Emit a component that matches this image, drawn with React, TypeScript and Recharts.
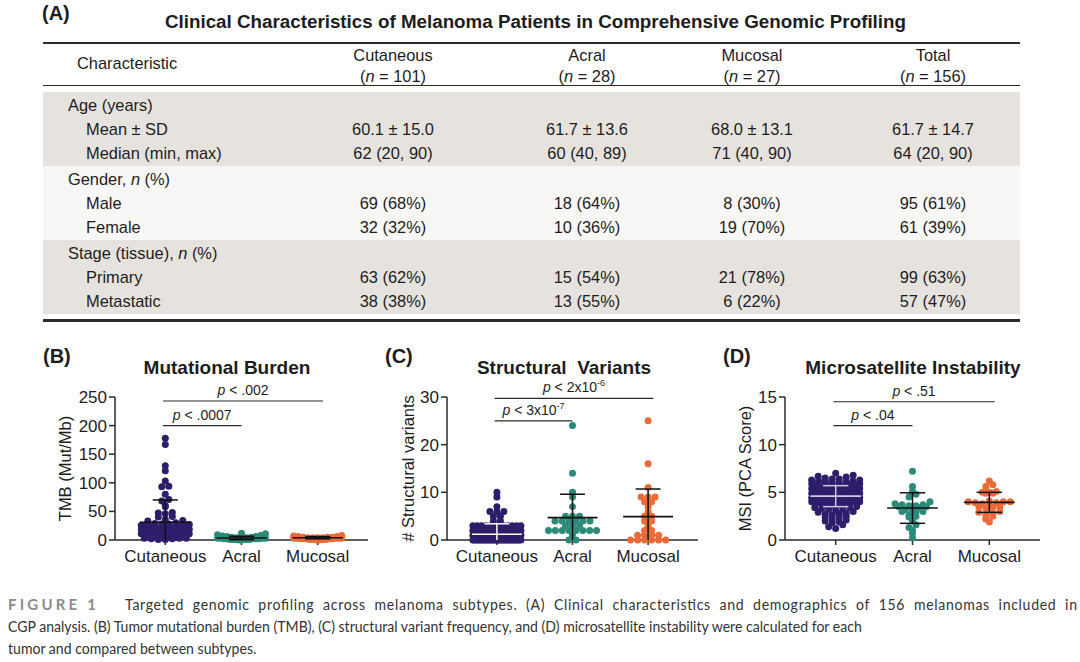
import React from 'react';
import { ScatterChart, Scatter, XAxis, YAxis, ReferenceLine } from 'recharts';

const FONT = '"Liberation Sans", Arial, Helvetica, sans-serif';
const INK = '#1d1d1d';
const AXIS = '#2a2a2a';

// ---------- (A) table ----------
const tableTitle = 'Clinical Characteristics of Melanoma Patients in Comprehensive Genomic Profiling';
const tableGroups = ['Cutaneous', 'Acral', 'Mucosal', 'Total'];
const tableGroupN = [101, 28, 27, 156];
const ageMeanSd = ['60.1 ± 15.0', '61.7 ± 13.6', '68.0 ± 13.1', '61.7 ± 14.7'];
const ageMedian = ['62 (20, 90)', '60 (40, 89)', '71 (40, 90)', '64 (20, 90)'];
const genderMale = ['69 (68%)', '18 (64%)', '8 (30%)', '95 (61%)'];
const genderFemale = ['32 (32%)', '10 (36%)', '19 (70%)', '61 (39%)'];
const stagePrimary = ['63 (62%)', '15 (54%)', '21 (78%)', '99 (63%)'];
const stageMetastatic = ['38 (38%)', '13 (55%)', '6 (22%)', '57 (47%)'];

const tableSections = [
  { name: 'Age (years)', nPct: false, shade: '#e6e2dd', rows: [['Mean ± SD', ageMeanSd], ['Median (min, max)', ageMedian]] },
  { name: 'Gender', nPct: true, shade: '#f8f7f5', rows: [['Male', genderMale], ['Female', genderFemale]] },
  { name: 'Stage (tissue)', nPct: true, shade: '#e6e2dd', rows: [['Primary', stagePrimary], ['Metastatic', stageMetastatic]] },
] as { name: string; nPct: boolean; shade: string; rows: [string, string[]][] }[];

// ---------- dot plots ----------
const subtypes = ['Cutaneous', 'Acral', 'Mucosal'];
const subtypeColors = ['#2d1d6b', '#2b8a78', '#ea6a38'];

// (B) tumor mutational burden, Mut/Mb
const tmbCutaneous = [
  178, 167, 130, 121, 103, 94, 93, 80, 71, 68, 60, 58, 48, 47, 46, 41, 40, 36, 34, 33,
  30, 29, 28, 28, 27, 26, 25, 25, 24, 24, 23, 22, 22, 21, 21, 20, 20, 19, 19, 18,
  18, 17, 17, 16, 16, 16, 15, 15, 15, 14, 14, 14, 13, 13, 13, 12, 12, 12, 12, 11,
  11, 11, 11, 10, 10, 10, 10, 9, 9, 9, 9, 8, 8, 8, 8, 8, 7, 7, 7, 7,
  7, 6, 6, 6, 6, 6, 5, 5, 5, 5, 4, 4, 4, 4, 3, 3, 3, 2, 2, 1, 1,
];
const tmbAcral = [12, 11, 9, 8, 7, 6, 6, 5, 5, 4, 4, 4, 3, 3, 3, 3, 2, 2, 2, 2, 2, 1, 1, 1, 1, 0.5, 0.5, 0];
const tmbMucosal = [8, 7, 6, 6, 5, 5, 5, 4, 4, 4, 4, 3, 3, 3, 3, 3, 2, 2, 2, 2, 2, 1, 1, 1, 1, 0, 0];
const tmbMean = [31, 3.5, 4];
const tmbSd = [39, 3, 2];

// (C) structural variants, count
const svCutaneous = [
  10, 9, 7, 6, 6, 6, 5, 5, 4, 4,
  3, 3, 3, 3, 3, 3, 3, 3, 3, 3, 3, 3,
  2, 2, 2, 2, 2, 2, 2, 2, 2, 2, 2, 2, 2, 2, 2, 2, 2, 2,
  1, 1, 1, 1, 1, 1, 1, 1, 1, 1, 1, 1, 1, 1, 1, 1, 1, 1, 1, 1, 1, 1, 1, 1, 1, 1, 1, 1, 1, 1,
  0, 0, 0, 0, 0, 0, 0, 0, 0, 0, 0, 0, 0, 0, 0, 0, 0, 0, 0, 0, 0, 0, 0, 0, 0, 0, 0, 0, 0, 0, 0,
];
const svAcral = [24, 14, 10, 9, 7, 5, 5, 5, 4, 4, 4, 4, 4, 4, 3, 3, 3, 2, 2, 2, 2, 2, 2, 2, 2, 1, 0, 0];
const svMucosal = [25, 16, 11, 9, 9, 9, 8, 8, 7, 6, 5, 5, 4, 4, 3, 2, 2, 1, 1, 1, 1, 0, 0, 0, 0, 0, 0];
const svMean = [1.2, 4.7, 4.9];
const svSd = [2.2, 4.9, 5.8];

// (D) microsatellite instability, PCA score
const msiCutaneous = [
  7.0, 6.8, 6.7, 6.6, 6.5, 6.4, 6.4, 6.3, 6.3, 6.2,
  6.2, 6.1, 6.1, 6.0, 6.0, 5.9, 5.9, 5.8, 5.8, 5.8,
  5.7, 5.7, 5.6, 5.6, 5.6, 5.5, 5.5, 5.4, 5.4, 5.4,
  5.3, 5.3, 5.2, 5.2, 5.2, 5.1, 5.1, 5.0, 5.0, 5.0,
  4.9, 4.9, 4.9, 4.8, 4.8, 4.8, 4.7, 4.7, 4.7, 4.6,
  4.6, 4.6, 4.5, 4.5, 4.5, 4.4, 4.4, 4.4, 4.3, 4.3,
  4.3, 4.2, 4.2, 4.2, 4.1, 4.1, 4.0, 4.0, 4.0, 3.9,
  3.9, 3.8, 3.8, 3.7, 3.7, 3.6, 3.6, 3.5, 3.4, 3.4,
  3.3, 3.2, 3.2, 3.1, 3.0, 2.9, 2.8, 2.7, 2.7, 2.6,
  2.5, 2.4, 2.3, 2.2, 2.1, 2.0, 1.9, 1.8, 1.6, 1.4, 1.2,
];
const msiAcral = [
  7.2, 5.6, 5.1, 4.8, 4.5, 4.0, 3.8, 3.7, 3.7, 3.6, 3.6, 3.5, 3.5, 3.4,
  3.2, 3.1, 3.0, 3.0, 2.9, 2.6, 2.5, 2.4, 2.0, 1.6, 1.3, 1.0, 0.7, 0.2,
];
const msiMucosal = [
  6.2, 5.8, 5.6, 5.1, 5.0, 5.0, 4.9, 4.9, 4.1, 4.0, 4.0, 4.0, 3.9, 3.9,
  3.8, 3.6, 3.5, 3.5, 3.4, 3.3, 3.0, 2.9, 2.8, 2.6, 2.5, 2.2, 1.9,
];
const msiMean = [4.6, 3.35, 3.95];
const msiSd = [1.1, 1.6, 1.05];

type Sig = { x1: number; x2: number; y: number; p: string; exp?: string };
const tmbSig: Sig[] = [
  { x1: 0.97, x2: 2, y: 200, p: '.0007' },
  { x1: 0.97, x2: 3.07, y: 243, p: '.002' },
];
const svSig: Sig[] = [
  { x1: 0.97, x2: 2, y: 25, p: '3x10', exp: '-7' },
  { x1: 0.97, x2: 3.07, y: 29.7, p: '2x10', exp: '-6' },
];
const msiSig: Sig[] = [
  { x1: 0.97, x2: 2, y: 12, p: '.04' },
  { x1: 0.97, x2: 3.07, y: 14.5, p: '.51' },
];

const captionLines = [
  'Targeted genomic profiling across melanoma subtypes. (A) Clinical characteristics and demographics of 156 melanomas included in',
  'CGP analysis. (B) Tumor mutational burden (TMB), (C) structural variant frequency, and (D) microsatellite instability were calculated for each',
  'tumor and compared between subtypes.',
];

// chart geometry
const CHART_TOP = 366;
const CHART_H = 214;
const M_TOP = 31;
const M_BOTTOM = 10;
const X_AXIS_H = 30;
const Y_AXIS_W = 75;
const M_RIGHT = 12;
const X_DOMAIN: [number, number] = [0.34, 3.66];
const DOT_R = 3.5;
const DOT_D = 7;
const MAX_HALF = 24;
const BIN_PX = 4.5;

// Prism-like scatter: group values into rows by pixel height, spread each row sideways
function swarm(values: number[], group: number, xPx: number, yPx: number) {
  const bins = new Map<number, number[]>();
  values.forEach((v, i) => {
    const b = Math.round((v * yPx) / BIN_PX);
    if (!bins.has(b)) bins.set(b, []);
    bins.get(b)!.push(i);
  });
  const out = values.map((v) => ({ x: group, y: v }));
  bins.forEach((idx) => {
    idx.sort((a, b) => values[a] - values[b]);
    const n = idx.length;
    const step = n > 1 ? Math.min(DOT_D, (2 * MAX_HALF) / (n - 1)) : 0;
    const slots = Array.from({ length: n }, (_, j) => (j - (n - 1) / 2) * step).sort(
      (a, b) => Math.abs(a) - Math.abs(b) || a - b,
    );
    idx.forEach((i, k) => {
      out[i].x = group + slots[k] / xPx;
    });
  });
  return out;
}

const sigLabel = (p: string, exp?: string) => (props: any) => {
  const vb = props.viewBox || {};
  const cx = (vb.x ?? 0) + (vb.width ?? 0) / 2;
  const y = (vb.y ?? 0) - 6;
  return (
    <text x={cx} y={y} textAnchor="middle" fontSize={14} fill={INK} fontFamily={FONT}>
      <tspan fontStyle="italic">p</tspan>
      <tspan>{` < ${p}`}</tspan>
      {exp ? (
        <tspan dy={-6} fontSize={9}>
          {exp}
        </tspan>
      ) : null}
    </text>
  );
};

type PlotProps = {
  left: number;
  width: number;
  yMax: number;
  yTicks: number[];
  yLabel: string;
  yLabelOffset: number;
  series: number[][];
  means: number[];
  sds: number[];
  barColors: string[];
  sig: Sig[];
};

function DotPlot(p: PlotProps) {
  const plotW = p.width - Y_AXIS_W - M_RIGHT;
  const plotH = CHART_H - M_TOP - M_BOTTOM - X_AXIS_H;
  const xPx = plotW / (X_DOMAIN[1] - X_DOMAIN[0]);
  const yPx = plotH / p.yMax;
  const tickStyle = { fontSize: 17, fill: INK, fontFamily: FONT };

  return (
    <div style={{ position: 'absolute', left: p.left, top: CHART_TOP }}>
      <ScatterChart
        width={p.width}
        height={CHART_H}
        margin={{ top: M_TOP, right: M_RIGHT, bottom: M_BOTTOM, left: 0 }}
      >
        <XAxis
          type="number"
          dataKey="x"
          domain={X_DOMAIN}
          ticks={[1, 2, 3]}
          interval={0}
          tickFormatter={(v: number) => subtypes[v - 1] ?? ''}
          height={X_AXIS_H}
          tick={tickStyle}
          tickSize={5}
          tickMargin={5}
          axisLine={{ stroke: AXIS, strokeWidth: 1.5 }}
          tickLine={{ stroke: AXIS, strokeWidth: 1.5 }}
        />
        <YAxis
          type="number"
          dataKey="y"
          domain={[0, p.yMax]}
          ticks={p.yTicks}
          interval={0}
          width={Y_AXIS_W}
          tick={tickStyle}
          tickSize={6}
          tickMargin={2}
          axisLine={{ stroke: AXIS, strokeWidth: 1.5 }}
          tickLine={{ stroke: AXIS, strokeWidth: 1.5 }}
          label={{
            value: p.yLabel,
            angle: -90,
            position: 'insideLeft',
            offset: p.yLabelOffset,
            style: { textAnchor: 'middle', fontSize: 16.5, fill: INK, fontFamily: FONT },
          }}
        />
        {p.series.map((vals, g) => (
          <Scatter
            key={subtypes[g]}
            name={subtypes[g]}
            data={swarm(vals, g + 1, xPx, yPx)}
            isAnimationActive={false}
            shape={(s: any) => <circle cx={s.cx} cy={s.cy} r={DOT_R} fill={subtypeColors[g]} />}
          />
        ))}
        {p.means.map((m, g) => {
          const x = g + 1;
          const hi = m + p.sds[g];
          const lo = Math.max(0, m - p.sds[g]);
          const c = p.barColors[g];
          return [
            <ReferenceLine key={`v${g}`} segment={[{ x, y: lo }, { x, y: hi }]} stroke={c} strokeWidth={1.5} ifOverflow="visible" zIndex={700} />,
            <ReferenceLine key={`m${g}`} segment={[{ x: x - 0.33, y: m }, { x: x + 0.33, y: m }]} stroke={c} strokeWidth={1.6} ifOverflow="visible" zIndex={700} />,
            <ReferenceLine key={`h${g}`} segment={[{ x: x - 0.165, y: hi }, { x: x + 0.165, y: hi }]} stroke={c} strokeWidth={1.5} ifOverflow="visible" zIndex={700} />,
            lo > 0 ? (
              <ReferenceLine key={`l${g}`} segment={[{ x: x - 0.165, y: lo }, { x: x + 0.165, y: lo }]} stroke={c} strokeWidth={1.5} ifOverflow="visible" zIndex={700} />
            ) : null,
          ];
        })}
        {p.sig.map((s, i) => (
          <ReferenceLine
            key={`sig${i}`}
            segment={[{ x: s.x1, y: s.y }, { x: s.x2, y: s.y }]}
            stroke={AXIS}
            strokeWidth={1.2}
            ifOverflow="visible"
            label={sigLabel(s.p, s.exp)}
          />
        ))}
      </ScatterChart>
    </div>
  );
}

function PanelHeading({ label, labelX, title, titleX }: { label: string; labelX: number; title: string; titleX: number }) {
  return (
    <>
      <div style={{ position: 'absolute', left: labelX, top: 345, lineHeight: '22px', whiteSpace: 'nowrap', font: `bold 20px ${FONT}` }}>{label}</div>
      <div
        style={{
          position: 'absolute',
          left: titleX - 160,
          width: 320,
          top: 357,
          lineHeight: '22px',
          textAlign: 'center',
          whiteSpace: 'pre',
          font: `bold 19px ${FONT}`,
        }}
      >
        {title}
      </div>
    </>
  );
}

function TablePanel() {
  const colX = [393, 587, 752, 933];
  const cell = (x: number, top: number, content: React.ReactNode, key: string) => (
    <div key={key} style={{ position: 'absolute', left: x - 90, width: 180, top, lineHeight: '24px', textAlign: 'center', whiteSpace: 'nowrap' }}>
      {content}
    </div>
  );
  const left = (x: number, top: number, content: React.ReactNode) => (
    <div style={{ position: 'absolute', left: x, top, lineHeight: '24px', whiteSpace: 'nowrap' }}>{content}</div>
  );
  return (
    <div style={{ position: 'absolute', left: 0, top: 0, font: `16.4px ${FONT}`, color: INK }}>
      <div style={{ position: 'absolute', left: 42, top: 2, lineHeight: '22px', font: `bold 20px ${FONT}` }}>(A)</div>
      <div style={{ position: 'absolute', left: 47, width: 977, top: 11, lineHeight: '22px', textAlign: 'center', whiteSpace: 'nowrap', font: `bold 18.8px ${FONT}` }}>
        {tableTitle}
      </div>
      <div style={{ position: 'absolute', left: 43, width: 977, top: 42, height: 2, background: '#2b2b2b' }} />
      {left(77, 51, 'Characteristic')}
      {tableGroups.map((g, i) => cell(colX[i], 43, g, `h${i}`))}
      {tableGroupN.map((n, i) =>
        cell(colX[i], 64, <span>(<i>n</i> = {n})</span>, `n${i}`),
      )}
      <div style={{ position: 'absolute', left: 43, width: 977, top: 84.5, height: 1.6, background: '#2b2b2b' }} />
      {tableSections.map((sec, s) => {
        const top = 92 + s * 74;
        return (
          <div key={sec.name}>
            <div style={{ position: 'absolute', left: 43, width: 977, top, height: 74, background: sec.shade }} />
            {left(
              68,
              top + 1,
              <>
                {sec.name}
                {sec.nPct ? (
                  <span>
                    , <i>n</i> (%)
                  </span>
                ) : null}
              </>,
            )}
            {sec.rows.map(([label, vals], r) => (
              <div key={label}>
                {left(86, top + 25 + r * 24, label)}
                {vals.map((v, i) => cell(colX[i], top + 25 + r * 24, v, `${label}${i}`))}
              </div>
            ))}
          </div>
        );
      })}
      <div style={{ position: 'absolute', left: 43, width: 977, top: 319, height: 2.5, background: '#2b2b2b' }} />
    </div>
  );
}

function Caption() {
  const font = 'Lato, "Noto Sans", sans-serif';
  const squeeze = 0.88;
  return (
    <svg width={1080} height={70} style={{ position: 'absolute', left: 0, top: 592 }}>
      <text x={8} y={18} fontFamily={font} fontSize={15} fontWeight={700} fill="#8c8c8c" letterSpacing={3.2}>
        FIGURE 1
      </text>
      <text
        transform={`translate(125,18) scale(${squeeze},1)`}
        fontFamily={font}
        fontSize={16}
        fill="#333"
        wordSpacing={5}
        textLength={952 / squeeze}
        lengthAdjust="spacing"
      >
        {captionLines[0]}
      </text>
      <text transform={`translate(8,40) scale(${squeeze},1)`} fontFamily={font} fontSize={16} fill="#333">
        {captionLines[1]}
      </text>
      <text transform={`translate(8,62) scale(${squeeze},1)`} fontFamily={font} fontSize={16} fill="#333">
        {captionLines[2]}
      </text>
    </svg>
  );
}

export default function App() {
  return (
    <div
      style={{
        position: 'absolute',
        left: 0,
        top: 0,
        width: 1080,
        height: 662,
        background: '#ffffff',
        overflow: 'hidden',
        fontFamily: FONT,
        color: INK,
      }}
    >
      <TablePanel />

      <PanelHeading label="(B)" labelX={43} title="Mutational Burden" titleX={227} />
      <PanelHeading label="(C)" labelX={385} title="Structural  Variants" titleX={564} />
      <PanelHeading label="(D)" labelX={723} title="Microsatellite Instability" titleX={913} />

      <DotPlot
        left={40}
        width={340}
        yMax={250}
        yTicks={[0, 50, 100, 150, 200, 250]}
        yLabel="TMB (Mut/Mb)"
        yLabelOffset={25}
        series={[tmbCutaneous, tmbAcral, tmbMucosal]}
        means={tmbMean}
        sds={tmbSd}
        barColors={['#111', '#111', '#111']}
        sig={tmbSig}
      />
      <DotPlot
        left={372}
        width={338}
        yMax={30}
        yTicks={[0, 10, 20, 30]}
        yLabel="# Structural variants"
        yLabelOffset={36}
        series={[svCutaneous, svAcral, svMucosal]}
        means={svMean}
        sds={svSd}
        barColors={['#ffffff', '#111', '#111']}
        sig={svSig}
      />
      <DotPlot
        left={710}
        width={342}
        yMax={15}
        yTicks={[0, 5, 10, 15]}
        yLabel="MSI (PCA Score)"
        yLabelOffset={35}
        series={[msiCutaneous, msiAcral, msiMucosal]}
        means={msiMean}
        sds={msiSd}
        barColors={['#cfc8e2', '#111', '#111']}
        sig={msiSig}
      />

      <Caption />
    </div>
  );
}
